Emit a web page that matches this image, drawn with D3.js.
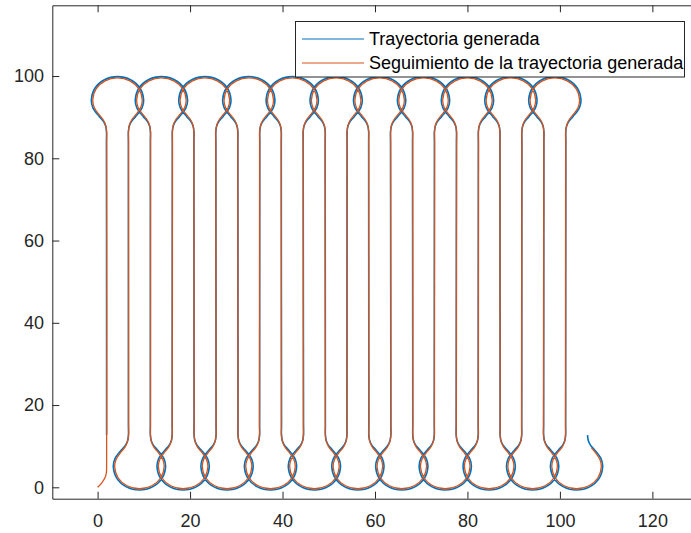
<!DOCTYPE html>
<html>
<head>
<meta charset="utf-8">
<script src="https://cdn.jsdelivr.net/npm/d3@7"></script>
<style>
  body { margin: 0; background: #fff; }
  svg { display: block; font-family: "Liberation Sans", Arial, Helvetica, sans-serif; }
</style>
</head>
<body>
<div id="chart-area"></div>
<script>
// Tick values
var xTicks = [0, 20, 40, 60, 80, 100, 120];
var yTicks = [0, 20, 40, 60, 80, 100];

// Centres of the turns (x)
var topTurnX = [4.3, 13.8, 23.2, 32.7, 42.1, 51.6, 61.0, 70.5, 80.0, 89.4, 98.9];
var bottomTurnX = [9.05, 18.5, 28.0, 37.4, 46.9, 56.3, 65.8, 75.2, 84.7, 94.1, 103.6];

// Shape of one turn: [offset from turn centre, y]
var topTurnBlue = [[-2.37, 84.0], [-2.37, 86.5], [-2.54, 87.8], [-3.04, 89.0], [-3.91, 90.13],
  [-5.31, 92.27], [-5.65, 94.2], [-4.89, 97.03], [-2.83, 99.09], [0, 99.85], [2.83, 99.09],
  [4.89, 97.03], [5.65, 94.2], [5.31, 92.27], [3.91, 90.13], [3.04, 89.0], [2.54, 87.8],
  [2.37, 86.5], [2.37, 84.0]];
var bottomTurnBlue = [[-2.37, 15.2], [-2.37, 12.7], [-2.54, 11.4], [-3.04, 10.2], [-3.91, 9.07],
  [-5.31, 6.93], [-5.65, 5.0], [-4.89, 2.17], [-2.83, 0.11], [0, -0.65], [2.83, 0.11],
  [4.89, 2.17], [5.65, 5.0], [5.31, 6.93], [3.91, 9.07], [3.04, 10.2], [2.54, 11.4],
  [2.37, 12.7], [2.37, 15.2]];
var topTurnOrange = [[-2.37, 84.0], [-2.37, 86.5], [-2.58, 88.08], [-3.19, 89.55], [-3.96, 90.6],
  [-5.03, 92.37], [-5.35, 94.2], [-4.63, 96.88], [-2.68, 98.83], [0, 99.55], [2.68, 98.83],
  [4.63, 96.88], [5.35, 94.2], [5.03, 92.37], [3.96, 90.6], [3.19, 89.55], [2.58, 88.08],
  [2.37, 86.5], [2.37, 84.0]];
var bottomTurnOrange = [[-2.37, 15.2], [-2.37, 12.7], [-2.58, 11.12], [-3.19, 9.65], [-3.96, 8.6],
  [-5.03, 6.83], [-5.35, 5.0], [-4.63, 2.32], [-2.68, 0.37], [0, -0.35], [2.68, 0.37],
  [4.63, 2.32], [5.35, 5.0], [5.03, 6.83], [3.96, 8.6], [3.19, 9.65], [2.58, 11.12],
  [2.37, 12.7], [2.37, 15.2]];

// Start of each path
var blueStart = [[1.95, 12.7]];
var orangeStart = [[0, 0], [0.9, 1.1], [1.6, 2.3], [1.9, 3.6], [1.95, 6.0]];

var seriesNames = ["Trayectoria generada", "Seguimiento de la trayectoria generada"];
var seriesColors = ["#0072BD", "#D95319"];

var W = 691, H = 533;

var svg = d3.select("#chart-area")
  .append("svg")
  .attr("width", W)
  .attr("height", H);

svg.append("rect").attr("width", W).attr("height", H).attr("fill", "#fff");

// Scales
var x = d3.scaleLinear().domain([-9.8, 130]).range([52.3, 698.6]);
var y = d3.scaleLinear().domain([-2.77, 117.2]).range([498.7, 5.3]);

svg.append("clipPath").attr("id", "plot-clip")
  .append("rect")
  .attr("x", x.range()[0]).attr("y", y.range()[1])
  .attr("width", x.range()[1] - x.range()[0])
  .attr("height", y.range()[0] - y.range()[1]);

// Build a path from the turns
function buildPath(start, topTurn, bottomTurn, lastCut) {
  var pts = start.slice();
  topTurnX.forEach(function(c, k) {
    topTurn.forEach(function(p) { pts.push([c + p[0], p[1]]); });
    var b = bottomTurn;
    if (k === topTurnX.length - 1) b = bottomTurn.slice(0, bottomTurn.length - lastCut);
    b.forEach(function(p) { pts.push([bottomTurnX[k] + p[0], p[1]]); });
  });
  return pts;
}

var bluePts = buildPath(blueStart, topTurnBlue, bottomTurnBlue, 1);
var orangePts = buildPath(orangeStart, topTurnOrange, bottomTurnOrange, 3);

var line = d3.line()
  .x(function(d) { return x(d[0]); })
  .y(function(d) { return y(d[1]); })
  .curve(d3.curveCatmullRom.alpha(0.5));

var plot = svg.append("g").attr("clip-path", "url(#plot-clip)");

plot.append("path")
  .attr("d", line(bluePts))
  .attr("fill", "none")
  .attr("stroke", seriesColors[0])
  .attr("stroke-width", 1.6);

plot.append("path")
  .attr("d", line(orangePts))
  .attr("fill", "none")
  .attr("stroke", seriesColors[1])
  .attr("stroke-width", 1.3);

// Axes
var axisColor = "#262626";

var xAxis = svg.append("g")
  .attr("transform", "translate(0," + y.range()[0] + ")")
  .call(d3.axisBottom(x).tickValues(xTicks).tickSizeInner(-7).tickSizeOuter(0).tickPadding(15.5));

var xTop = svg.append("g")
  .attr("transform", "translate(0," + y.range()[1] + ")")
  .call(d3.axisTop(x).tickValues(xTicks).tickSizeInner(-7).tickSizeOuter(0).tickFormat(""));

var yAxis = svg.append("g")
  .attr("transform", "translate(" + x.range()[0] + ",0)")
  .call(d3.axisLeft(y).tickValues(yTicks).tickSizeInner(-7).tickSizeOuter(0).tickPadding(8.3));

[xAxis, xTop, yAxis].forEach(function(a) {
  a.select(".domain").attr("stroke", axisColor).attr("stroke-width", 1);
  a.selectAll(".tick line").attr("stroke", axisColor).attr("stroke-width", 1);
  a.selectAll(".tick text")
    .attr("fill", axisColor)
    .attr("font-size", "18px")
    .attr("font-family", "'Liberation Sans', Arial, Helvetica, sans-serif");
});

// Legend
var legend = svg.append("g");
legend.append("rect")
  .attr("x", 295.5).attr("y", 21.5)
  .attr("width", 389).attr("height", 55.5)
  .attr("fill", "#fff")
  .attr("stroke", axisColor)
  .attr("stroke-width", 1);

seriesNames.forEach(function(name, i) {
  var cy = 39 + i * 24;
  legend.append("line")
    .attr("x1", 302).attr("x2", 364)
    .attr("y1", cy).attr("y2", cy)
    .attr("stroke", seriesColors[i])
    .attr("stroke-width", 1.2);
  legend.append("text")
    .attr("x", 369)
    .attr("y", cy)
    .attr("dy", "0.35em")
    .attr("font-size", "18px")
    .attr("fill", "#000")
    .text(name);
});
</script>
</body>
</html>
